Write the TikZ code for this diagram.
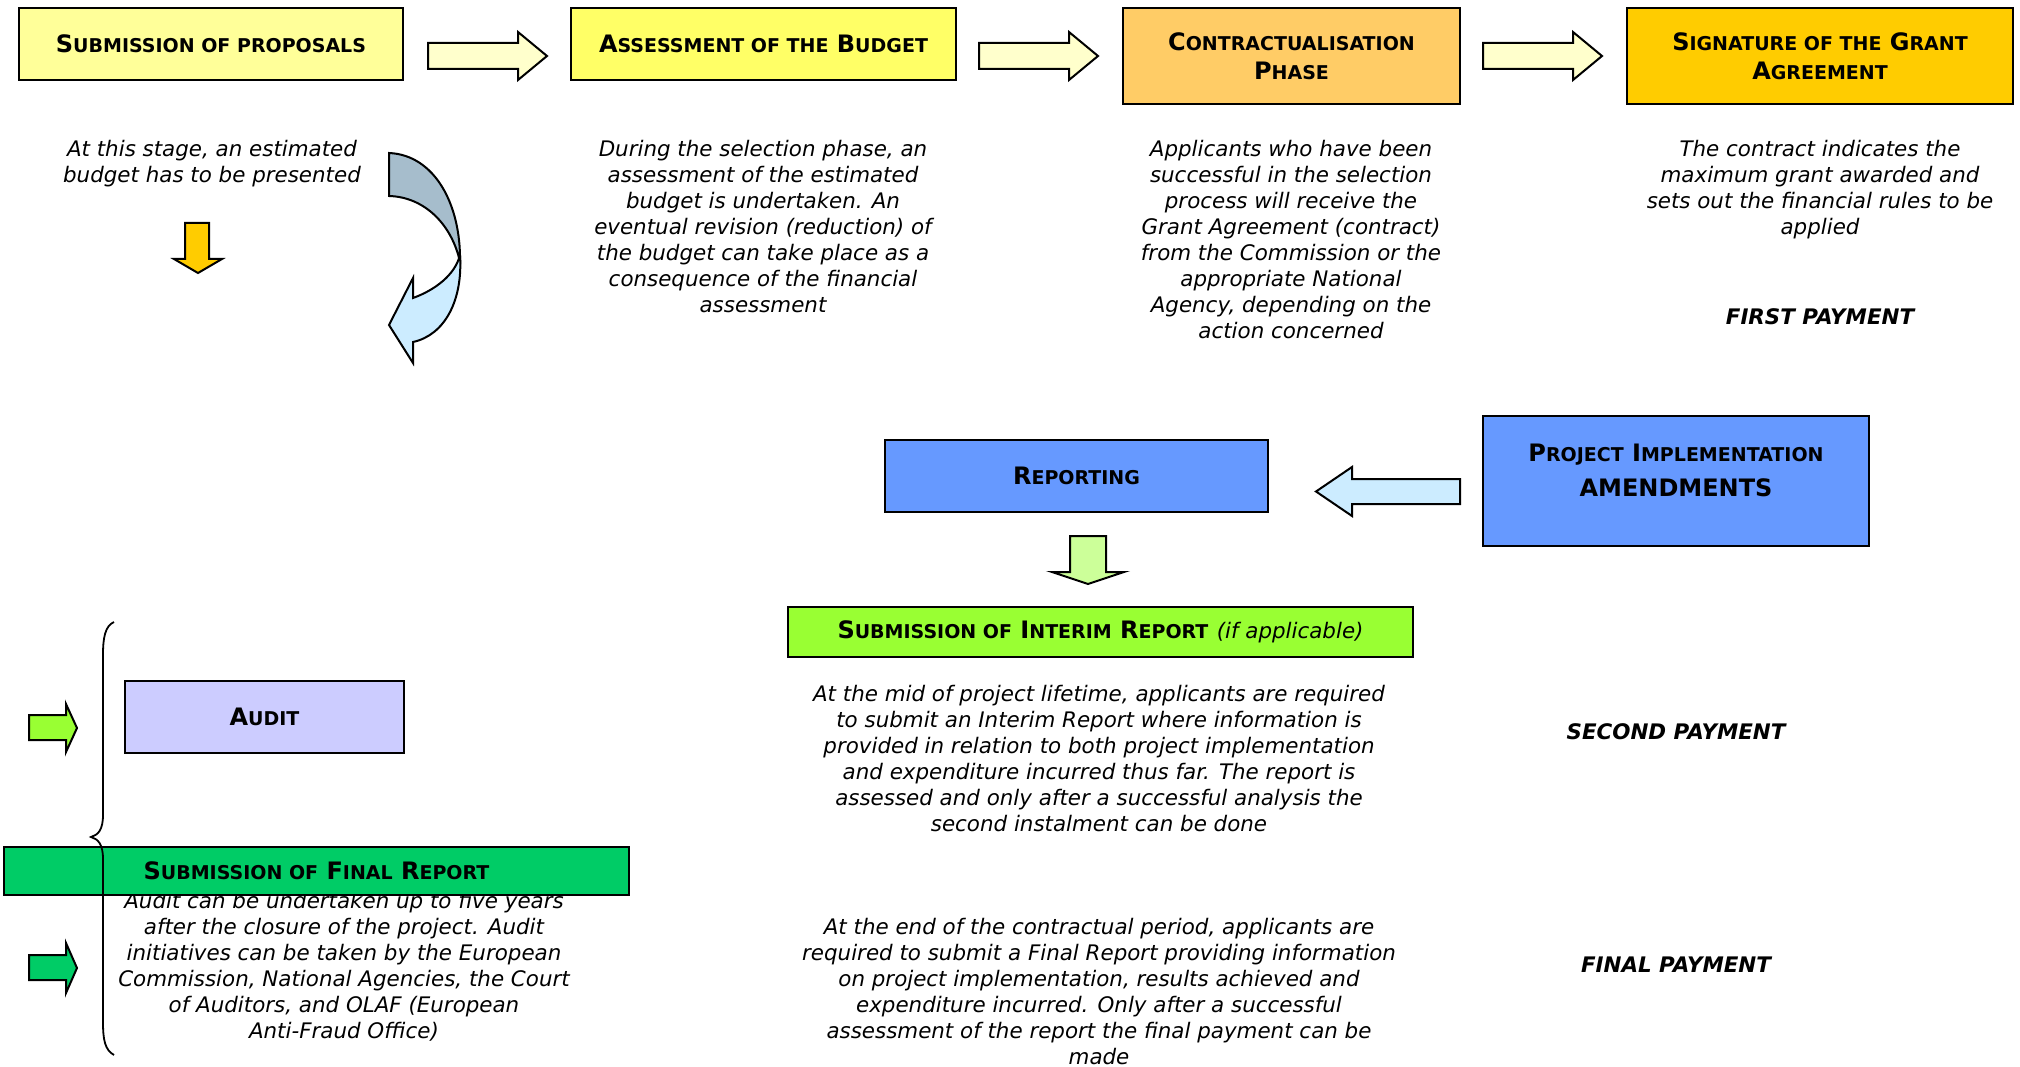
\documentclass[tikz,border=0pt]{standalone}
\usepackage{fontspec}
\setmainfont{DejaVu Sans}
\definecolor{propyel}{HTML}{FFFF99}
\definecolor{budgyel}{HTML}{FFFF66}
\definecolor{contorange}{HTML}{FFCC66}
\definecolor{signgold}{HTML}{FFCC00}
\definecolor{repblue}{HTML}{6699FF}
\definecolor{interimgreen}{HTML}{99FF33}
\definecolor{finalgreen}{HTML}{00CC66}
\definecolor{auditlilac}{HTML}{CCCCFF}
\definecolor{arrowcream}{HTML}{FFFFCC}
\definecolor{arrowsky}{HTML}{CCECFF}
\definecolor{arrowlime}{HTML}{CCFF99}
\definecolor{arrowslate}{HTML}{A6BDCC}
\newcommand{\smc}[1]{{\fontsize{19}{24}\selectfont #1}}

\begin{document}
\begin{tikzpicture}[x=1pt, y=-1pt,
  box/.style={draw, line width=2.5pt, inner sep=0pt, align=center, font=\bfseries\fontsize{24}{29}\selectfont},
  body/.style={inner sep=0pt, align=center, anchor=north, font=\itshape\fontsize{21.4}{26}\selectfont},
  pay/.style={inner sep=0pt, font=\bfseries\itshape\fontsize{21.4}{26}\selectfont},
  blockarrow/.style={draw, line width=2pt, line join=miter}]
\useasboundingbox (0,0) rectangle (2020,1067);

\node[box, fill=propyel, minimum width=384pt, minimum height=72pt] (proposals) at (211,44) {S\smc{UBMISSION OF PROPOSALS}};
\node[box, fill=budgyel, minimum width=385pt, minimum height=72pt] (budget) at (763.5,44) {A\smc{SSESSMENT OF THE} B\smc{UDGET}};
\node[box, fill=contorange, minimum width=337pt, minimum height=96pt] (contract) at (1291.5,56) {C\smc{ONTRACTUALISATION}\\P\smc{HASE}};
\node[box, fill=signgold, minimum width=386pt, minimum height=96pt] (signature) at (1820,56) {S\smc{IGNATURE OF THE} G\smc{RANT}\\A\smc{GREEMENT}};
\foreach \x in {428, 979, 1483}
    \draw[blockarrow, fill=arrowcream] (\x,43) -- ++(90,0) -- ++(0,-11) -- ++(29,24) -- ++(-29,24) -- ++(0,-11) -- ++(-90,0) -- cycle;

\node[body] (proptext) at (212,140) {At this stage, an estimated\\budget has to be presented};
\node[body] (budgtext) at (763,140) {During the selection phase, an\\assessment of the estimated\\budget is undertaken. An\\eventual revision (reduction) of\\the budget can take place as a\\consequence of the financial\\assessment};
\node[body] (conttext) at (1291,140) {Applicants who have been\\successful in the selection\\process will receive the\\Grant Agreement (contract)\\from the Commission or the\\appropriate National\\Agency, depending on the\\action concerned};
\node[body] (signtext) at (1820,140) {The contract indicates the\\maximum grant awarded and\\sets out the financial rules to be\\applied};
\node[pay] (firstpay) at (1820,317) {FIRST PAYMENT};

\draw[blockarrow, fill=signgold] (185,223) -- (209,223) -- (209,259) -- (222,259) -- (198,273) -- (174,259) -- (185,259) -- cycle;
\draw[blockarrow, fill=arrowslate] (389,153) .. controls (435,155) and (461,205) .. (460,262) .. controls (452,225) and (425,197) .. (389,196) -- cycle;
\draw[blockarrow, fill=arrowsky] (460,255) .. controls (463,300) and (445,335) .. (413,342) -- (413,363) -- (389,325) -- (413,278) -- (413,298) .. controls (435,290) and (455,275) .. (460,255) -- cycle;

\node[box, fill=repblue, minimum width=383pt, minimum height=72pt] (reporting) at (1076.5,476) {R\smc{EPORTING}};
\node[box, fill=repblue, minimum width=386pt, minimum height=130pt] (implement) at (1676,481) {};
\node[inner sep=0pt, align=center, font=\bfseries\fontsize{24}{35}\selectfont] (impltext) at (1676,470) {P\smc{ROJECT} I\smc{MPLEMENTATION}\\AMENDMENTS};
\draw[blockarrow, fill=arrowsky] (1460,479) -- (1352,479) -- (1352,467) -- (1316,491.5) -- (1352,516) -- (1352,504) -- (1460,504) -- cycle;
\draw[blockarrow, fill=arrowlime] (1070,536) -- (1106,536) -- (1106,572) -- (1124,572) -- (1088,584) -- (1052,572) -- (1070,572) -- cycle;

\node[box, fill=interimgreen, minimum width=625pt, minimum height=50pt] (interim) at (1100.5,632) {S\smc{UBMISSION OF} I\smc{NTERIM} R\smc{EPORT} {\mdseries\itshape\fontsize{21.4}{26}\selectfont (if applicable)}};
\node[body] (interimtext) at (1099,685) {At the mid of project lifetime, applicants are required\\to submit an Interim Report where information is\\provided in relation to both project implementation\\and expenditure incurred thus far. The report is\\assessed and only after a successful analysis the\\second instalment can be done};
\node[pay] (secondpay) at (1676,732) {SECOND PAYMENT};
\node[body] (finaltext) at (1099,918) {At the end of the contractual period, applicants are\\required to submit a Final Report providing information\\on project implementation, results achieved and\\expenditure incurred. Only after a successful\\assessment of the report the final payment can be\\made};
\node[pay] (finalpay) at (1676,965) {FINAL PAYMENT};

\node[box, fill=auditlilac, minimum width=279pt, minimum height=72pt] (audit) at (264.5,717) {A\smc{UDIT}};
\draw[blockarrow, fill=interimgreen] (29,715) -- (66,715) -- (66,704) -- (77,728) -- (66,752) -- (66,740) -- (29,740) -- cycle;
\draw[blockarrow, fill=finalgreen] (29,955) -- (66,955) -- (66,943) -- (77,968) -- (66,993) -- (66,980) -- (29,980) -- cycle;
\node[body] (audittext) at (344,892) {Audit can be undertaken up to five years\\after the closure of the project. Audit\\initiatives can be taken by the European\\Commission, National Agencies, the Court\\of Auditors, and OLAF (European\\Anti-Fraud Office)};
\node[box, fill=finalgreen, minimum width=625pt, minimum height=48pt] (final) at (316.5,871) {S\smc{UBMISSION OF} F\smc{INAL} R\smc{EPORT}};
\draw[line width=1.8pt] (114,622) .. controls (105,626) and (103,638) .. (103,655) -- (103,815) .. controls (103,830) and (98,835) .. (91,837) .. controls (98,839) and (103,844) .. (103,859) -- (103,1022) .. controls (103,1040) and (105,1050) .. (114,1055);
\end{tikzpicture}
\end{document}
